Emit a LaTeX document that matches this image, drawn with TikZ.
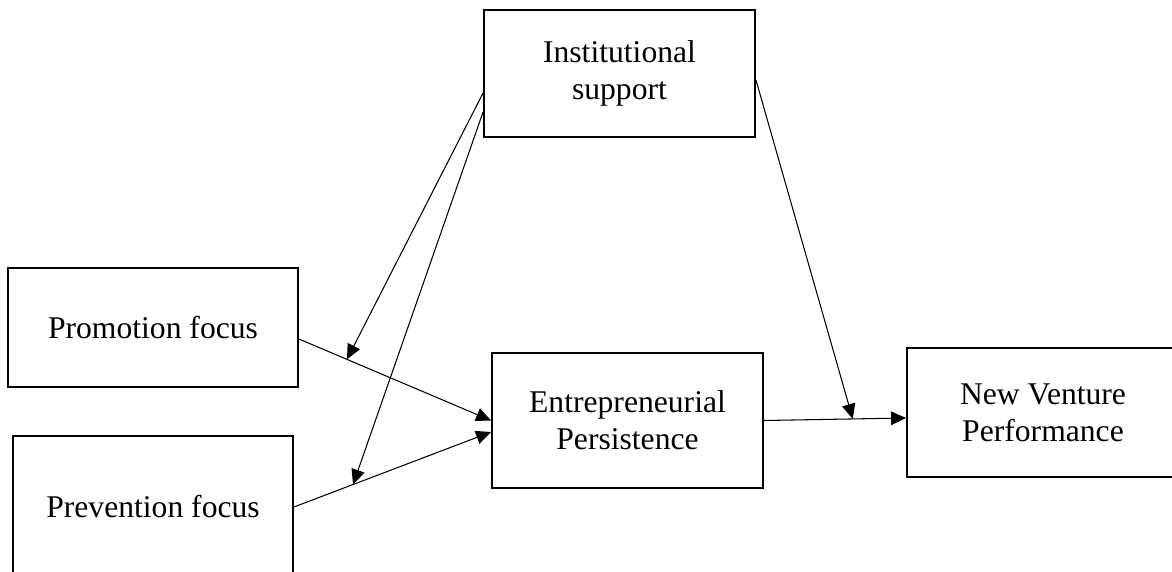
\documentclass[tikz,border=0pt]{standalone}
\usepackage{fontspec}
\setmainfont{Liberation Serif}
\usetikzlibrary{arrows.meta,positioning,calc}
\tikzset{
  box/.style  = {draw, rectangle, line width=1.1pt, align=center, inner sep=0pt,
                 font=\fontsize{18}{21}\selectfont},
  post/.style = {-{Triangle[length=0.3cm,width=0.27cm]}, line width=0.6pt}
}

\begin{document}
\begin{tikzpicture}[x=0.02cm, y=-0.02cm]
      \useasboundingbox (0,0) rectangle (1172,571);
      % boxes
      \node[box, minimum width=5.42cm, minimum height=2.54cm] (inst) at (619.5,73.5) {Institutional\\support};
      \node[box, minimum width=5.8cm, minimum height=2.38cm] (promo) at (153,327.5) {Promotion focus};
      \node[box, minimum width=5.6cm, minimum height=2.84cm] (prev) at (153,507) {Prevention focus};
      \node[box, minimum width=5.42cm, minimum height=2.7cm] (pers) at (627.5,420.5) {Entrepreneurial\\Persistence};
      \node[box, minimum width=5.44cm, minimum height=2.58cm] (perf) at (1043,412.5) {New Venture\\Performance};
      % main paths
      \draw[post] ([yshift=-0.23cm]promo.east) -- coordinate[pos=0.25] (m1) (pers.west);
      \draw[post] (prev.east) -- coordinate[pos=0.3] (m2) ([yshift=-0.23cm]pers.west);
      \draw[post] (pers.east) -- coordinate[pos=0.625] (m3) ([yshift=-0.11cm]perf.west);
      % moderation
      \draw[post] ([yshift=-0.39cm]inst.west) -- (m1);
      \draw[post] ([yshift=-0.77cm]inst.west) -- (m2);
      \draw[post] ([yshift=-0.13cm]inst.east) -- (m3);
\end{tikzpicture}
\end{document}
